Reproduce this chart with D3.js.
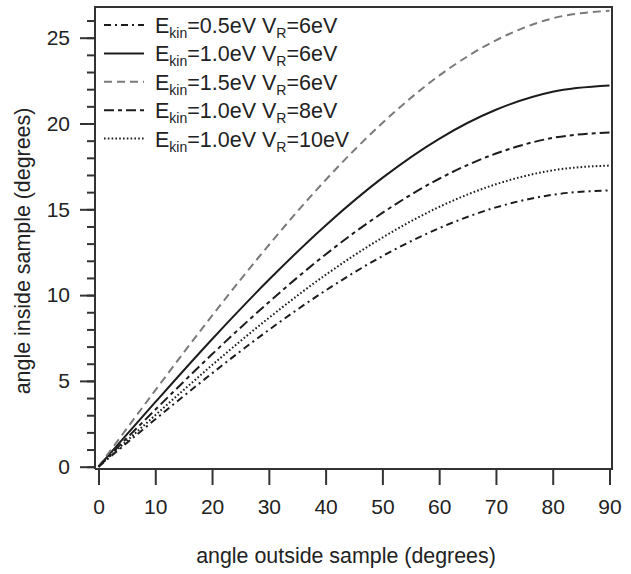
<!DOCTYPE html>
<html>
<head>
<meta charset="utf-8">
<script src="https://cdn.jsdelivr.net/npm/d3@7"></script>
<style>
  html, body { margin: 0; padding: 0; background: #fff; }
  svg { display: block; font-family: "Liberation Sans", Arial, Helvetica, sans-serif; }
</style>
</head>
<body>
<svg id="chart" width="631" height="574"></svg>
<script>
// Angle outside the sample (degrees)
const angleOut = [0, 10, 20, 30, 40, 50, 60, 70, 80, 90];

// Angle inside the sample (degrees) for each kinetic energy / inner potential pair
const e05v6  = [0, 2.76, 5.44, 7.97, 10.27, 12.27, 13.90, 15.11, 15.85, 16.10];
const e10v6  = [0, 3.76, 7.43, 10.89, 14.06, 16.83, 19.11, 20.80, 21.85, 22.21];
const e15v6  = [0, 4.45, 8.80, 12.92, 16.71, 20.03, 22.79, 24.85, 26.13, 26.57];
const e10v8  = [0, 3.32, 6.55, 9.59, 12.37, 14.79, 16.78, 18.25, 19.16, 19.47];
const e10v10 = [0, 3.00, 5.92, 8.67, 11.18, 13.35, 15.14, 16.46, 17.27, 17.55];

// Legend labels: [E_kin value, V_R value]
const legendE = ["0.5", "1.0", "1.5", "1.0", "1.0"];
const legendV = ["6", "6", "6", "8", "10"];

const xTicks = [0, 10, 20, 30, 40, 50, 60, 70, 80, 90];
const yTicks = [0, 5, 10, 15, 20, 25];
const yMinorTicks = d3.range(0, 27, 1);

const series = [
  { values: e05v6,  color: "#1c1c1c", dash: "7,4,2,4" },
  { values: e10v6,  color: "#1c1c1c", dash: null },
  { values: e15v6,  color: "#7a7a7a", dash: "8,5" },
  { values: e10v8,  color: "#1c1c1c", dash: "10,4,4,4" },
  { values: e10v10, color: "#1c1c1c", dash: "1.6,2.2" }
];

const svg = d3.select("#chart");
const axisColor = "#333";
const fontSize = 21;
const legendFont = 21.5;
const subFont = 14;

const frame = { left: 95, right: 612, top: 7, bottom: 469 };

const x = d3.scaleLinear().domain([0, 90]).range([98.5, 609.5]);
const y = d3.scaleLinear().domain([0, 25]).range([466.7, 37.7]);

// Curves
const line = d3.line()
  .x((d, i) => x(angleOut[i]))
  .y(d => y(d))
  .curve(d3.curveMonotoneX);

const curves = svg.append("g");
series.forEach(s => {
  curves.append("path")
    .attr("d", line(s.values))
    .attr("fill", "none")
    .attr("stroke", s.color)
    .attr("stroke-width", 2)
    .attr("stroke-dasharray", s.dash);
});

// Frame (left, top, right; bottom is the x axis line)
svg.append("path")
  .attr("d", `M${frame.left},${frame.bottom}V${frame.top}H${frame.right}V${frame.bottom}H${frame.left}`)
  .attr("fill", "none")
  .attr("stroke", axisColor)
  .attr("stroke-width", 2);

// X axis
const xAxis = svg.append("g")
  .attr("transform", `translate(0,${frame.bottom})`)
  .call(d3.axisBottom(x).tickValues(xTicks).tickSize(16).tickPadding(14).tickFormat(d3.format("d")));
xAxis.select(".domain").remove();
xAxis.selectAll(".tick line").attr("stroke", axisColor).attr("stroke-width", 2);
xAxis.selectAll(".tick text").attr("fill", "#222").style("font-size", fontSize + "px")
  .style("font-family", "Liberation Sans, Arial, sans-serif");

// Y axis: minor ticks then major ticks with labels
const yMinor = svg.append("g")
  .attr("transform", `translate(${frame.left},0)`)
  .call(d3.axisLeft(y).tickValues(yMinorTicks).tickSize(8).tickFormat(""));
yMinor.select(".domain").remove();
yMinor.selectAll(".tick line").attr("stroke", axisColor).attr("stroke-width", 2);

const yAxis = svg.append("g")
  .attr("transform", `translate(${frame.left},0)`)
  .call(d3.axisLeft(y).tickValues(yTicks).tickSize(15).tickPadding(10).tickFormat(d3.format("d")));
yAxis.select(".domain").remove();
yAxis.selectAll(".tick line").attr("stroke", axisColor).attr("stroke-width", 2);
yAxis.selectAll(".tick text").attr("fill", "#222").style("font-size", fontSize + "px")
  .style("font-family", "Liberation Sans, Arial, sans-serif");

// Axis titles
svg.append("text")
  .attr("x", 346)
  .attr("y", 563)
  .attr("text-anchor", "middle")
  .attr("fill", "#222")
  .style("font-size", "21.4px")
  .text("angle outside sample (degrees)");

svg.append("text")
  .attr("transform", "translate(30,251) rotate(-90)")
  .attr("text-anchor", "middle")
  .attr("fill", "#222")
  .style("font-size", "21.4px")
  .text("angle inside sample (degrees)");

// Legend
const legend = svg.append("g");
const rowY = i => 25 + i * 28.4;
series.forEach((s, i) => {
  const yy = rowY(i);
  legend.append("line")
    .attr("x1", 104).attr("x2", 144)
    .attr("y1", yy).attr("y2", yy)
    .attr("stroke", s.color)
    .attr("stroke-width", 2)
    .attr("stroke-dasharray", s.dash);

  const t = legend.append("text")
    .attr("x", 155)
    .attr("y", yy + 8)
    .attr("fill", "#222")
    .style("font-size", legendFont + "px");
  t.append("tspan").text("E");
  t.append("tspan").attr("dy", 5).style("font-size", subFont + "px").text("kin");
  t.append("tspan").attr("dy", -5).text(`=${legendE[i]}eV V`);
  t.append("tspan").attr("dy", 5).style("font-size", subFont + "px").text("R");
  t.append("tspan").attr("dy", -5).text(`=${legendV[i]}eV`);
});
</script>
</body>
</html>
